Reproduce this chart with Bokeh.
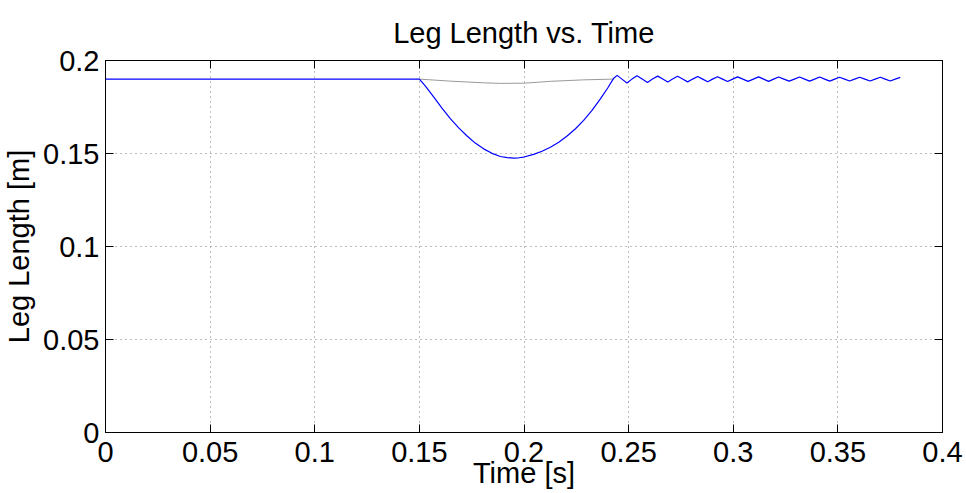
from bokeh.plotting import figure
from bokeh.models import LinearAxis, Range1d, FixedTicker
from bokeh.embed import file_html
from bokeh.resources import INLINE

# ---- data ----
x_ticks = [0, 0.05, 0.1, 0.15, 0.2, 0.25, 0.3, 0.35, 0.4]
x_tick_labels = ["0", "0.05", "0.1", "0.15", "0.2", "0.25", "0.3", "0.35", "0.4"]
y_ticks = [0, 0.05, 0.1, 0.15, 0.2]
y_tick_labels = ["0", "0.05", "0.1", "0.15", "0.2"]

# leg length (blue)
leg_t = [0.0, 0.15, 0.1530, 0.1569, 0.1608, 0.1648, 0.1688, 0.1728, 0.1767, 0.1807,
         0.1847, 0.1887, 0.1920, 0.1951, 0.1975, 0.1999, 0.2046, 0.2086,
         0.2126, 0.2166, 0.2206, 0.2246, 0.2285, 0.2325, 0.2365, 0.2400, 0.2429,
         0.2445, 0.2468, 0.2492, 0.2516, 0.2540, 0.2565, 0.2590, 0.2614, 0.2639, 0.2663,
         0.2687, 0.2710, 0.2734, 0.2758, 0.2782, 0.2806, 0.2830, 0.2854, 0.2878, 0.2901,
         0.2925, 0.2949, 0.2973, 0.2997, 0.3021, 0.3046, 0.3071, 0.3096, 0.3121, 0.3145,
         0.3169, 0.3193, 0.3217, 0.3242, 0.3267, 0.3292, 0.3317, 0.3341, 0.3365, 0.3389,
         0.3413, 0.3437, 0.3461, 0.3485, 0.3508, 0.3532, 0.3556, 0.3580, 0.3604, 0.3629,
         0.3654, 0.3678, 0.3703, 0.3726, 0.3750, 0.3774, 0.3798]
leg_len = [0.19, 0.19, 0.1861, 0.1803, 0.1744, 0.1687, 0.1638, 0.1594, 0.1556, 0.1525,
           0.1501, 0.1484, 0.1478, 0.1475, 0.1477, 0.1481, 0.1495, 0.1512,
           0.1534, 0.1561, 0.1594, 0.1633, 0.1678, 0.1732, 0.1794, 0.1852, 0.1905,
           0.1920, 0.19, 0.1879, 0.19, 0.1918, 0.19, 0.1882, 0.19, 0.1916, 0.19,
           0.1884, 0.19, 0.1915, 0.19, 0.1885, 0.19, 0.1914, 0.19, 0.1886, 0.19,
           0.1913, 0.19, 0.1887, 0.19, 0.1912, 0.19, 0.1888, 0.19, 0.1912, 0.19,
           0.1888, 0.19, 0.1911, 0.19, 0.1889, 0.19, 0.1911, 0.19, 0.1889, 0.19,
           0.1911, 0.19, 0.1889, 0.19, 0.1910, 0.19, 0.1890, 0.19, 0.1910, 0.19,
           0.1890, 0.19, 0.1910, 0.19, 0.1890, 0.19, 0.1909]

# reference / rest length (gray)
ref_t = [0.15, 0.1648, 0.1807, 0.1887, 0.1999, 0.2126, 0.2285, 0.2429]
ref_len = [0.19, 0.1889, 0.1880, 0.1877, 0.1878, 0.1888, 0.1896, 0.19]

FONT = "Liberation Sans"
FS = "29px"

p = figure(width=966, height=493, output_backend="svg", toolbar_location=None,
           x_range=Range1d(0, 0.4), y_range=Range1d(0, 0.2),
           min_border_left=105, min_border_right=24, min_border_top=60, min_border_bottom=61,
           background_fill_color="white", border_fill_color="white",
           title="Leg Length vs. Time")
p.outline_line_color = "black"
p.outline_line_alpha = 1.0
p.outline_line_width = 1

p.title.align = "center"
p.title.text_font = FONT
p.title.text_font_size = FS
p.title.text_font_style = "normal"
p.title.text_color = "black"
p.title.standoff = 23


def style_axis(ax, ticks, labels, standoff=6):
    ax.ticker = FixedTicker(ticks=ticks)
    ax.major_label_overrides = {t: l for t, l in zip(ticks, labels)}
    ax.axis_line_color = "black"
    ax.major_tick_line_color = "black"
    ax.major_tick_in = 8
    ax.major_tick_out = 0
    ax.minor_tick_in = 0
    ax.minor_tick_out = 0
    ax.major_label_text_font = FONT
    ax.major_label_text_font_size = FS
    ax.major_label_text_color = "black"
    ax.major_label_standoff = standoff
    ax.axis_label_text_font = FONT
    ax.axis_label_text_font_size = FS
    ax.axis_label_text_font_style = "normal"
    ax.axis_label_text_color = "black"


style_axis(p.xaxis[0], x_ticks, x_tick_labels, standoff=9)
style_axis(p.yaxis[0], y_ticks, y_tick_labels, standoff=6)
p.xaxis[0].axis_label = "Time [s]"
p.xaxis[0].axis_label_standoff = -8
p.yaxis[0].axis_label = "Leg Length [m]"
p.yaxis[0].axis_label_standoff = 5

top = LinearAxis()
style_axis(top, x_ticks, [""] * len(x_ticks), standoff=0)
p.add_layout(top, "above")
right = LinearAxis()
style_axis(right, y_ticks, [""] * len(y_ticks), standoff=0)
p.add_layout(right, "right")

for g in (p.xgrid[0], p.ygrid[0]):
    g.grid_line_color = "#7a7a7a"
    g.grid_line_dash = "1 4"
    g.grid_line_width = 1
p.xgrid[0].ticker = FixedTicker(ticks=x_ticks)
p.ygrid[0].ticker = FixedTicker(ticks=y_ticks)

p.line(ref_t, ref_len, line_color="#999999", line_width=1)
p.line(leg_t, leg_len, line_color="#0000ff", line_width=1.2, line_join="round")

open("out.html", "w").write(file_html(p, INLINE))
